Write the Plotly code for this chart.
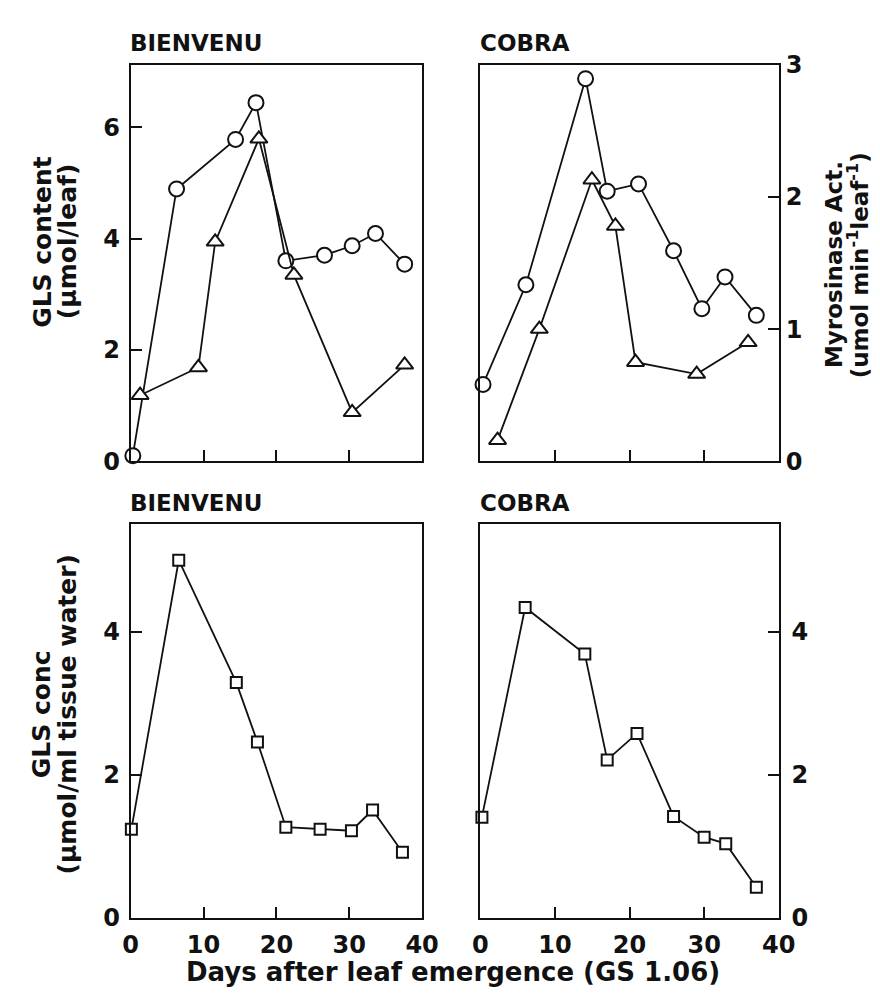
import plotly.graph_objects as go

# ---------------- data ----------------
bien_gls_days = [0.3, 6.3, 14.4, 17.2, 21.3, 26.6, 30.4, 33.6, 37.6]
bien_gls = [0.1, 4.89, 5.78, 6.44, 3.6, 3.7, 3.87, 4.09, 3.54]
bien_myr_days = [1.3, 9.3, 11.6, 17.6, 22.4, 30.4, 37.6]
bien_myr = [0.50, 0.71, 1.66, 2.44, 1.41, 0.37, 0.73]

cobra_gls_days = [0.35, 6.1, 14.1, 17.0, 21.2, 25.9, 29.7, 32.8, 37.0]
cobra_gls = [1.38, 3.17, 6.87, 4.85, 4.98, 3.78, 2.74, 3.31, 2.62]
cobra_myr_days = [2.3, 7.9, 14.95, 18.1, 20.8, 29.0, 35.9]
cobra_myr = [0.16, 1.0, 2.13, 1.78, 0.75, 0.66, 0.90]

bien_conc_days = [0.1, 6.6, 14.5, 17.4, 21.3, 26.0, 30.3, 33.2, 37.3]
bien_conc = [1.24, 5.0, 3.29, 2.46, 1.27, 1.24, 1.22, 1.51, 0.92]
cobra_conc_days = [0.2, 6.0, 14.0, 17.0, 21.0, 25.9, 30.0, 32.9, 37.0]
cobra_conc = [1.41, 4.34, 3.69, 2.21, 2.58, 1.42, 1.13, 1.04, 0.43]

x_ticks = [0, 10, 20, 30, 40]
gls_ticks = [0, 2, 4, 6]
myr_ticks = [0, 1, 2, 3]
conc_ticks = [0, 2, 4]

W, H = 880, 995
FONT = "DejaVu Sans, Liberation Sans, Arial, sans-serif"
BLACK = "#111111"

def px_x(a, b):
    return [a / W, b / W]

def px_y(top, bottom):
    return [1 - bottom / H, 1 - top / H]

XL = px_x(118, 418)
XR = px_x(478, 785)
YT = px_y(44, 452)
YB = px_y(517, 922)

fig = go.Figure()

def line_trace(x, y, symbol, size, xa, ya):
    return go.Scatter(
        x=x, y=y, mode="lines+markers", xaxis=xa, yaxis=ya,
        line=dict(color=BLACK, width=1.8),
        marker=dict(symbol=symbol, size=size, color="white",
                    line=dict(color=BLACK, width=2)),
        cliponaxis=False, showlegend=False, hoverinfo="skip")

# top-left: BIENVENU GLS content (circles), myrosinase (triangles)
fig.add_trace(line_trace(bien_myr_days, bien_myr, "triangle-up", 15, "x", "y5"))
fig.add_trace(line_trace(bien_gls_days, bien_gls, "circle", 15, "x", "y"))
# top-right: COBRA
fig.add_trace(line_trace(cobra_myr_days, cobra_myr, "triangle-up", 15, "x2", "y6"))
fig.add_trace(line_trace(cobra_gls_days, cobra_gls, "circle", 15, "x2", "y2"))
# bottom: GLS concentration
fig.add_trace(line_trace(bien_conc_days, bien_conc, "square", 11, "x3", "y3"))
fig.add_trace(line_trace(cobra_conc_days, cobra_conc, "square", 11, "x4", "y4"))

tickfont = dict(family=FONT, size=24, color=BLACK, weight="bold")
frame = dict(showline=True, linecolor=BLACK, linewidth=2, mirror=True,
             showgrid=False, zeroline=False, ticks="inside", ticklen=11,
             tickwidth=2, tickcolor=BLACK, tickfont=tickfont)

xr = [0, 40]
fig.update_layout(
    width=W, height=H, margin=dict(l=0, r=0, t=0, b=0),
    paper_bgcolor="white", plot_bgcolor="white",
    xaxis=dict(domain=XL, range=xr, anchor="y", tickvals=[10, 20, 30],
               showticklabels=False, **frame),
    yaxis=dict(domain=YT, range=[0, 7.12], anchor="x", tickvals=gls_ticks,
               ticklabelstandoff=4, **frame),
    yaxis5=dict(overlaying="y", range=[0, 3], anchor="x", visible=False),
    xaxis2=dict(domain=XR, range=xr, anchor="y2", tickvals=[10, 20, 30],
                showticklabels=False, **frame),
    yaxis2=dict(domain=YT, range=[0, 7.12], anchor="x2", tickvals=[],
                showticklabels=False, **frame),
    yaxis6=dict(overlaying="y2", range=[0, 3], anchor="x2", side="right",
                tickvals=myr_ticks, showline=False, showgrid=False,
                zeroline=False, ticks="inside", ticklen=11, tickwidth=2,
                tickcolor=BLACK, tickfont=tickfont, ticklabelstandoff=6),
    xaxis3=dict(domain=XL, range=xr, anchor="y3", tickvals=x_ticks,
                ticklabelstandoff=4, **frame),
    yaxis3=dict(domain=YB, range=[0, 5.5], anchor="x3", tickvals=conc_ticks,
                ticklabelstandoff=4, **frame),
    xaxis4=dict(domain=XR, range=xr, anchor="y4", tickvals=x_ticks,
                ticklabelstandoff=4, **frame),
    yaxis4=dict(domain=YB, range=[0, 5.5], anchor="x4", side="right",
                tickvals=conc_ticks, ticklabelstandoff=6, **frame),
)

def ann(text, x, y, size=24, angle=0, xanchor="center", yanchor="middle"):
    fig.add_annotation(text=text, x=x / W, y=1 - y / H, xref="paper",
                       yref="paper", showarrow=False, textangle=angle,
                       xanchor=xanchor, yanchor=yanchor,
                       font=dict(family=FONT, size=size, color=BLACK,
                                 weight="bold"))

ann("BIENVENU", 115, 22, size=23, xanchor="left")
ann("COBRA", 476, 22, size=23, xanchor="left")
ann("BIENVENU", 115, 495, size=23, xanchor="left")
ann("COBRA", 476, 495, size=23, xanchor="left")

ann("GLS content", 27, 226, size=25, angle=-90)
ann("(μmol/leaf)", 53, 226, size=25, angle=-90)
ann("GLS conc", 27, 712, size=25, angle=-90)
ann("(μmol/ml tissue water)", 53, 712, size=25, angle=-90)
ann("Myrosinase Act.", 842, 250, size=23, angle=-90)
ann("(umol min<sup>-1</sup>leaf<sup>-1</sup>)", 867, 250, size=23, angle=-90)

ann("Days after leaf emergence (GS 1.06)", 450, 978, size=26)

fig.write_html("out.html")
